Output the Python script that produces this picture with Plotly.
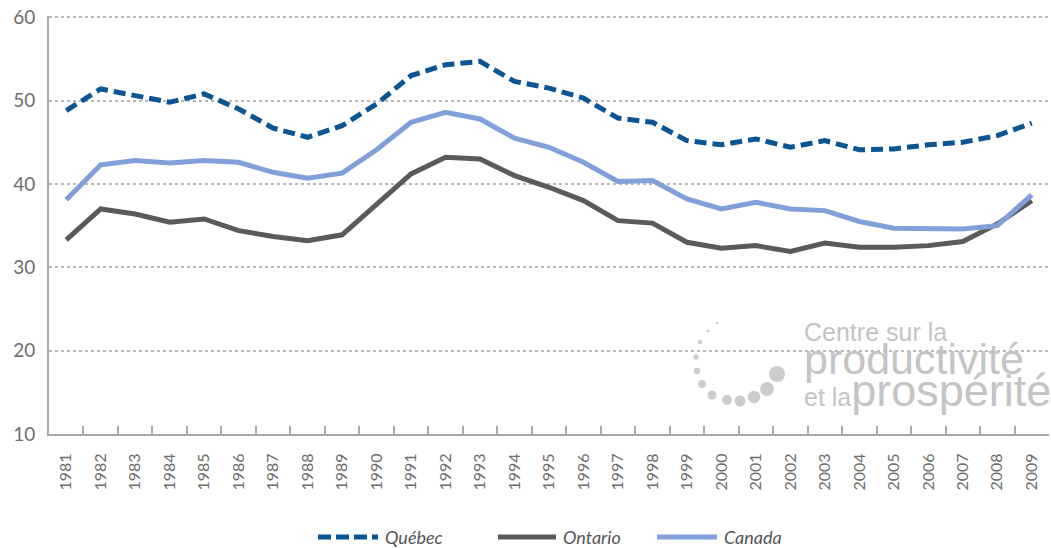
import plotly.graph_objects as go

years = [str(y) for y in range(1981, 2010)]
quebec = [48.8, 51.4, 50.6, 49.8, 50.8, 49.0, 46.7, 45.6, 47.0, 49.6,
          53.0, 54.3, 54.7, 52.3, 51.5, 50.3, 47.9, 47.4, 45.2, 44.7,
          45.4, 44.4, 45.2, 44.1, 44.2, 44.7, 45.0, 45.8, 47.3]
ontario = [33.3, 37.0, 36.4, 35.4, 35.8, 34.4, 33.7, 33.2, 33.9, 37.6,
           41.2, 43.2, 43.0, 41.0, 39.6, 38.0, 35.6, 35.3, 33.0, 32.3,
           32.6, 31.9, 32.9, 32.4, 32.4, 32.6, 33.1, 35.2, 38.0]
canada = [38.1, 42.3, 42.8, 42.5, 42.8, 42.6, 41.4, 40.7, 41.3, 44.1,
          47.4, 48.6, 47.8, 45.5, 44.4, 42.6, 40.3, 40.4, 38.2, 37.0,
          37.8, 37.0, 36.8, 35.5, 34.7, 34.7, 34.6, 35.0, 38.7]
series_names = ["Québec", "Ontario", "Canada"]
y_ticks = [10, 20, 30, 40, 50, 60]

FONT = "Lato"
W, H = 1051, 548
L, R, T, B = 49, 2, 16, 114
pw, ph = W - L - R, H - T - B


def px(x):
    """window x pixel -> paper x"""
    return (x - L) / pw


def py(y):
    """window y pixel -> paper y"""
    return (H - B - y) / ph


styles = [
    dict(color="#0a5592", width=5, dash="12px,6px"),
    dict(color="#5a5a5a", width=5),
    dict(color="#819fd8", width=5),
]
values = [quebec, ontario, canada]

fig = go.Figure()
for name, vals, st in zip(series_names, values, styles):
    fig.add_trace(go.Scatter(x=years, y=vals, name=name, mode="lines",
                             line=st, showlegend=False))

# Custom legend (long line samples as in the original)
legend_pos = [(318, 378, 383), (498, 556, 561), (657, 717, 722)]
for name, st, (x0, x1, xt) in zip(series_names, styles, legend_pos):
    fig.add_shape(type="line", xref="paper", yref="paper",
                  x0=px(x0), x1=px(x1), y0=py(537), y1=py(537),
                  line=dict(color=st["color"], width=5,
                            dash="13px,5px" if "dash" in st else "solid"))
    fig.add_annotation(xref="paper", yref="paper", x=px(xt), y=py(537), text=name,
                       showarrow=False, xanchor="left", yanchor="middle",
                       font=dict(family=FONT, size=18, color="#555555", style="italic"))

# Logo (decorative)
dots = [(717, 323, 1.2), (708, 331, 1.6), (700, 342, 2.2), (696, 357, 2.8),
        (697, 371, 3.3), (702, 384, 4.0), (712, 395, 4.5), (727, 400, 5.0),
        (740, 401, 5.5), (754, 397, 6.2), (767, 389, 7.0), (777, 374, 8.0)]
for (cx, cy, r) in dots:
    fig.add_shape(type="circle", xref="paper", yref="paper",
                  x0=px(cx - r), x1=px(cx + r), y0=py(cy + r), y1=py(cy - r),
                  fillcolor="#cccccc", line=dict(width=0), layer="below")
logo_col = "#c4c4c4"
logo_text = ("Centre sur la<br>"
             "<span style='font-size:43px'>productivité</span><br>"
             "<span style='font-size:25px'>et la</span>"
             "<span style='font-size:45px'>prospérité</span>")
fig.add_annotation(xref="paper", yref="paper", x=px(802), y=py(367), text=logo_text,
                   showarrow=False, xanchor="left", yanchor="middle", align="left",
                   font=dict(family="Liberation Sans", size=25, color=logo_col))

fig.update_layout(
    width=W, height=H,
    margin=dict(l=L, r=R, t=T, b=B, autoexpand=False),
    plot_bgcolor="white", paper_bgcolor="white",
    font=dict(family=FONT, color="#6e6e6e"),
    showlegend=False,
)
fig.update_xaxes(type="category", range=[-0.5, len(years) - 0.5], automargin=False,
                 tickson="boundaries", ticks="inside", ticklen=8, tickcolor="#a8a8a8",
                 tickwidth=1.5, showline=True, linecolor="#a8a8a8", linewidth=2,
                 showgrid=False, tickangle=-90, ticklabelstandoff=11,
                 tickfont=dict(family=FONT, size=16, color="#6e6e6e"))
fig.update_yaxes(range=[10, 60.15], tickvals=y_ticks, showline=True, linecolor="#a8a8a8",
                 linewidth=2, showgrid=True, gridcolor="#b8b8b8", griddash="dot",
                 gridwidth=1.5, zeroline=False, ticks="", ticklabelstandoff=8,
                 automargin=False, ticklabeloverflow="allow",
                 tickfont=dict(family=FONT, size=19, color="#6e6e6e"))

# remove the browser's default 8px body margin so the figure fills the window
fig.write_html("out.html", config={"displayModeBar": False},
               post_script="document.body.style.margin='0px';document.body.style.overflow='hidden';")
